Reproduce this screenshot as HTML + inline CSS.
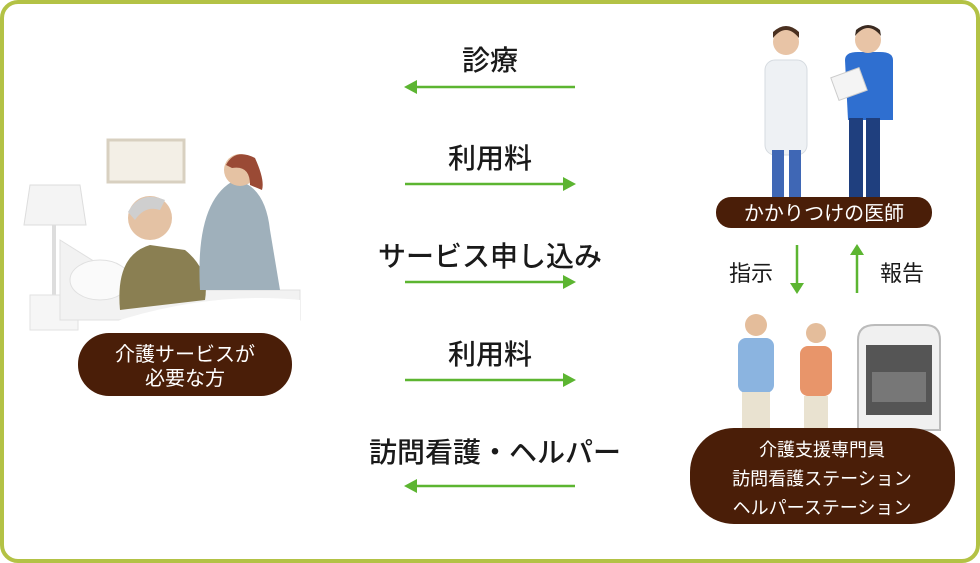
<!DOCTYPE html>
<html><head><meta charset="utf-8"><style>
html,body{margin:0;padding:0;background:#fff}
svg{display:block}
text{font-family:"Liberation Sans","Noto Sans CJK JP",sans-serif}
</style></head><body>
<svg width="980" height="563" viewBox="0 0 980 563" xmlns="http://www.w3.org/2000/svg">
<rect x="2" y="2" width="976" height="559" rx="16" fill="#fff" stroke="#b3c245" stroke-width="4"/>
<!-- left illustration (approx) -->
<rect x="108" y="140" width="76" height="42" fill="#f3efe6" stroke="#d8d0c0" stroke-width="3"/>
<path d="M30 185 L80 185 L86 225 L24 225 Z" fill="#f4f4f4" stroke="#ddd"/>
<rect x="52" y="225" width="4" height="70" fill="#ddd"/>
<rect x="30" y="295" width="48" height="35" fill="#f6f6f6" stroke="#e2e2e2"/>
<path d="M60 240 L60 320 L300 320 L300 290 L140 290 Z" fill="#f2f2f2" stroke="#e0e0e0"/>
<ellipse cx="100" cy="280" rx="30" ry="20" fill="#fafafa" stroke="#e0e0e0"/>
<path d="M120 310 Q115 255 150 245 L185 250 Q210 270 205 300 Z" fill="#8a7f52"/>
<circle cx="150" cy="218" r="22" fill="#e4c2a4"/>
<path d="M128 212 Q140 190 165 200 L160 210 Q145 205 135 220 Z" fill="#cfcfcf"/>
<path d="M200 290 Q195 200 235 180 Q265 185 270 230 L280 290 Z" fill="#9fb0bb"/>
<circle cx="240" cy="170" r="16" fill="#e5c2a3"/>
<path d="M226 165 Q235 148 255 158 Q265 180 262 190 L250 185 Q250 165 232 168 Z" fill="#9a4a35"/>
<path d="M90 330 Q200 290 300 300 L300 330 Z" fill="#fff"/>
<!-- right top doctors -->
<rect x="765" y="60" width="42" height="95" rx="10" fill="#eef1f4" stroke="#d6dbe0"/>
<circle cx="786" cy="42" r="13" fill="#e8c4a6"/>
<path d="M773 38 Q786 22 799 38 L799 32 Q786 20 773 32 Z" fill="#4a3020"/>
<rect x="772" y="150" width="12" height="48" fill="#3f67b5"/><rect x="789" y="150" width="12" height="48" fill="#3f67b5"/>
<path d="M845 60 Q845 52 858 52 L880 52 Q893 52 893 60 L893 120 L848 120 Z" fill="#2f6fd0"/>
<circle cx="868" cy="40" r="13" fill="#e8c4a6"/>
<path d="M855 36 Q868 20 881 36 L880 30 Q868 20 856 30 Z" fill="#3a2a20"/>
<rect x="834" y="72" width="30" height="24" fill="#f4f4f4" stroke="#ccc" transform="rotate(-20 849 84)"/>
<rect x="849" y="118" width="14" height="80" fill="#1f3f7e"/><rect x="866" y="118" width="14" height="80" fill="#1f3f7e"/>
<!-- bottom right staff & van -->
<rect x="738" y="338" width="36" height="55" rx="8" fill="#8bb4e0"/>
<circle cx="756" cy="325" r="11" fill="#e4bd9b"/>
<rect x="742" y="392" width="28" height="36" fill="#e9e2d0"/>
<rect x="800" y="346" width="32" height="50" rx="8" fill="#e8956a"/>
<circle cx="816" cy="333" r="10" fill="#e4bd9b"/>
<rect x="804" y="396" width="24" height="32" fill="#e9e2d0"/>
<path d="M858 340 Q858 325 875 325 L925 325 Q940 325 940 340 L940 430 L858 430 Z" fill="#f0f0f0" stroke="#bbb" stroke-width="2"/>
<rect x="866" y="345" width="66" height="70" fill="#555"/>
<rect x="872" y="372" width="54" height="30" fill="#777"/>
<!-- arrows -->
<g stroke="#5cb531" stroke-width="2.5" fill="#5cb531">
<line x1="415" y1="87" x2="575" y2="87"/><line x1="405" y1="184" x2="565" y2="184"/>
<line x1="405" y1="282" x2="565" y2="282"/><line x1="405" y1="380" x2="565" y2="380"/>
<line x1="415" y1="486" x2="575" y2="486"/>
<line x1="797" y1="245" x2="797" y2="285"/><line x1="857" y1="253" x2="857" y2="293"/>
</g>
<g fill="#5cb531">
<path d="M404 87 L417 80 L417 94 Z"/>
<path d="M576 184 L563 177 L563 191 Z"/><path d="M576 282 L563 275 L563 289 Z"/><path d="M576 380 L563 373 L563 387 Z"/>
<path d="M404 486 L417 479 L417 493 Z"/>
<path d="M797 294 L790 283 L804 283 Z"/><path d="M857 244 L850 255 L864 255 Z"/>
</g>
<g font-size="28" fill="#1a1a1a" text-anchor="middle" font-weight="500">
<text x="490" y="70">診療</text>
<text x="490" y="168">利用料</text>
<text x="490" y="266">サービス申し込み</text>
<text x="490" y="364">利用料</text>
<text x="495" y="462">訪問看護・ヘルパー</text>
</g>
<g font-size="22" fill="#1a1a1a" text-anchor="middle">
<text x="751" y="281">指示</text><text x="902" y="281">報告</text>
</g>
<!-- pills -->
<rect x="78" y="333" width="214" height="63" rx="31" fill="#4a1e08"/>
<g font-size="20" fill="#fff" text-anchor="middle">
<text x="185" y="361">介護サービスが</text><text x="185" y="385">必要な方</text>
</g>
<rect x="716" y="197" width="216" height="31" rx="15" fill="#4a1e08"/>
<text x="824" y="220" font-size="20" fill="#fff" text-anchor="middle">かかりつけの医師</text>
<rect x="690" y="428" width="265" height="96" rx="44" fill="#4a1e08"/>
<g font-size="18" fill="#fff" text-anchor="middle">
<text x="822" y="456">介護支援専門員</text><text x="822" y="485">訪問看護ステーション</text><text x="822" y="514">ヘルパーステーション</text>
</g>
</svg>
</body></html>
